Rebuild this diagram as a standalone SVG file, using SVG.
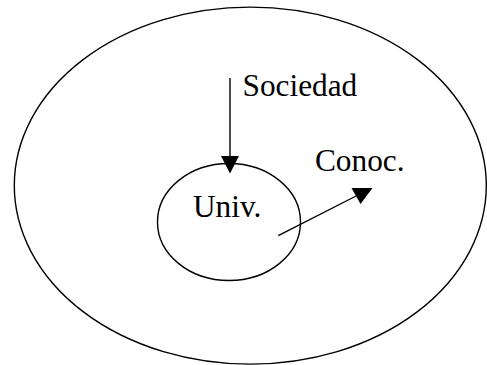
<svg xmlns="http://www.w3.org/2000/svg" width="487" height="365" viewBox="0 0 487 365">
<style>
.shape{fill:none;stroke:#000;stroke-width:1.4}
.lbl{font-family:"Liberation Serif","Times New Roman",serif;font-size:31.3px;fill:#000}
.edge{stroke:#000;stroke-width:1.4;fill:none}
.head{fill:#000;stroke:none}
</style>
<rect width="487" height="365" fill="#fff"/>
<g id="sociedad">
<ellipse class="shape" cx="250.3" cy="185.6" rx="236" ry="178.5"/>
<text class="lbl" x="242.5" y="96">Sociedad</text>
</g>
<g id="univ">
<ellipse class="shape" cx="229" cy="222" rx="71.5" ry="58.5"/>
<text class="lbl" x="193" y="216.7">Univ.</text>
</g>
<g id="conoc">
<text class="lbl" x="315" y="170.7">Conoc.</text>
</g>
<g id="connectors">
<line class="edge" x1="230" y1="78" x2="230" y2="158"/>
<polygon class="head" points="221,156 239,156 230,173.5"/>
<line class="edge" x1="278.3" y1="235.7" x2="358" y2="195"/>
<polygon class="head" points="372.5,188 360.5,204 351.5,188"/>
</g>
</svg>
